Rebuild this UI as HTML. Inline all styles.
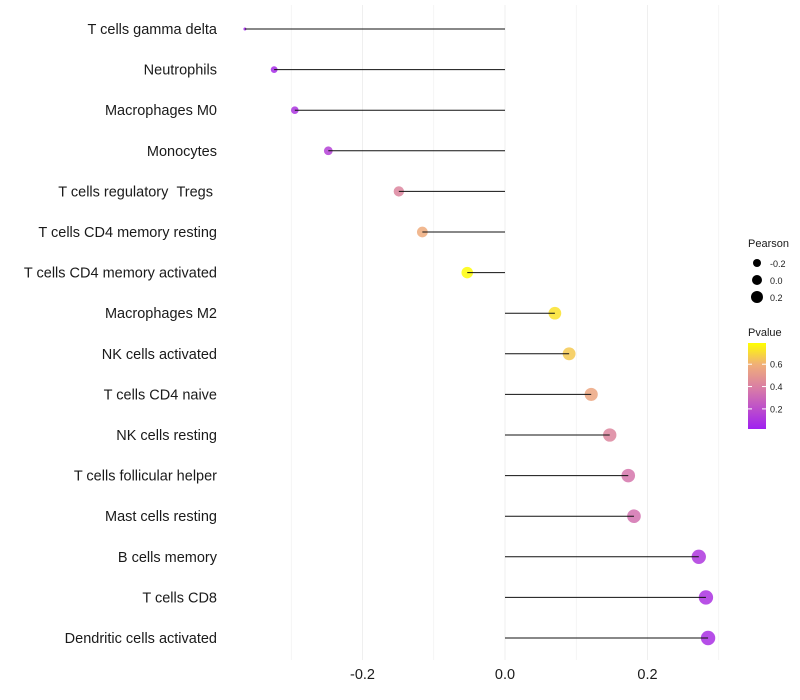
<!DOCTYPE html>
<html><head><meta charset="utf-8"><style>
html,body{margin:0;padding:0;background:#fff;}
svg{display:block;font-family:"Liberation Sans",Arial,sans-serif;}
</style></head><body>
<svg id="chart" width="800" height="700"></svg>
<script>
const categories=["T cells gamma delta","Neutrophils","Macrophages M0","Monocytes","T cells regulatory \u00a0Tregs\u00a0","T cells CD4 memory resting","T cells CD4 memory activated","Macrophages M2","NK cells activated","T cells CD4 naive","NK cells resting","T cells follicular helper","Mast cells resting","B cells memory","T cells CD8","Dendritic cells activated"];
const pearson=[-0.365,-0.324,-0.295,-0.248,-0.149,-0.116,-0.053,0.070,0.090,0.121,0.147,0.173,0.181,0.272,0.282,0.285];
const pvalue=[0.03,0.06,0.10,0.15,0.42,0.58,0.78,0.72,0.66,0.56,0.42,0.36,0.34,0.11,0.09,0.08];
const xTicks=[-0.2,0.0,0.2];
const xTickLabels=["-0.2","0.0","0.2"];
const xGrid=[-0.3,-0.2,-0.1,0.0,0.1,0.2,0.3];
const sizeLegend=[-0.2,0.0,0.2];
const pTicks=[0.2,0.4,0.6];

const NS="http://www.w3.org/2000/svg";
const svg=document.getElementById('chart');
function el(t,a,p){const e=document.createElementNS(NS,t);for(const k in a)e.setAttribute(k,a[k]);(p||svg).appendChild(e);return e;}
const x=v=>505+v*712.5;
const y=i=>29+i*(638-29)/15;
const sMin=-0.365,sMax=0.285;
const r=v=>{const t=Math.max(0,Math.min(1,(v-sMin)/(sMax-sMin)));return 1.5+5.7*Math.pow(t,0.4);};
const pMin=0.02,pMax=0.79;
function lerp(a,b,t){return a.map((c,i)=>Math.round(c+(b[i]-c)*t));}
const stops=[[0,[160,32,240]],[0.45,[214,120,170]],[0.75,[240,175,120]],[1,[255,255,0]]];
function col(p){let t=Math.max(0,Math.min(1,(p-pMin)/(pMax-pMin)));
 for(let i=1;i<stops.length;i++){if(t<=stops[i][0]){const s=stops[i-1],e=stops[i];const c=lerp(s[1],e[1],(t-s[0])/(e[0]-s[0]));return `rgb(${c[0]},${c[1]},${c[2]})`;}}
 return 'rgb(255,255,0)';}

xGrid.forEach(v=>{const g=el('line',{x1:x(v),x2:x(v),y1:5,y2:660,stroke:'#efefef','stroke-width':xTicks.includes(v)?1:0.6});
});
categories.forEach((c,i)=>{
 const t=el('text',{x:217,y:y(i)+5,'text-anchor':'end','font-size':14.5,fill:'#1a1a1a'});t.textContent=c;
 
 const pt=el('circle',{cx:x(pearson[i]),cy:y(i),r:r(pearson[i]),fill:col(pvalue[i]),'fill-opacity':0.85});
 
 const ln=el('line',{x1:x(0),x2:x(pearson[i]),y1:y(i),y2:y(i),stroke:'#111','stroke-width':1});
 
});
xTicks.forEach((v,i)=>{const t=el('text',{x:x(v),y:679,'text-anchor':'middle','font-size':14.5,fill:'#1a1a1a'});t.textContent=xTickLabels[i];
});
const lt=el('text',{x:748,y:247,'font-size':11,fill:'#1a1a1a'});lt.textContent='Pearson';

const lr=[4,5,6];
sizeLegend.forEach((v,i)=>{const cy=263+i*17;
 const c=el('circle',{cx:757,cy:cy,r:lr[i],fill:'#000'});
 const t=el('text',{x:770,y:cy+4,'font-size':9,fill:'#1a1a1a'});t.textContent=v.toFixed(1);
 });
const ct=el('text',{x:748,y:336,'font-size':11,fill:'#1a1a1a'});ct.textContent='Pvalue';

const defs=el('defs',{});const lg=el('linearGradient',{id:'pg',x1:0,y1:1,x2:0,y2:0},defs);
stops.forEach(s=>el('stop',{offset:s[0],'stop-color':`rgb(${s[1].join(',')})`},lg));
const bar=el('rect',{x:748,y:343,width:18,height:86,fill:'url(#pg)'});

const py=p=>429-(p-pMin)/(pMax-pMin)*86;
pTicks.forEach(p=>{el('line',{x1:748,x2:752,y1:py(p),y2:py(p),stroke:'#fff'});el('line',{x1:762,x2:766,y1:py(p),y2:py(p),stroke:'#fff'});
 const t=el('text',{x:770,y:py(p)+3.5,'font-size':9,fill:'#1a1a1a'});t.textContent=p.toFixed(1);
 });
</script>
</body></html>
